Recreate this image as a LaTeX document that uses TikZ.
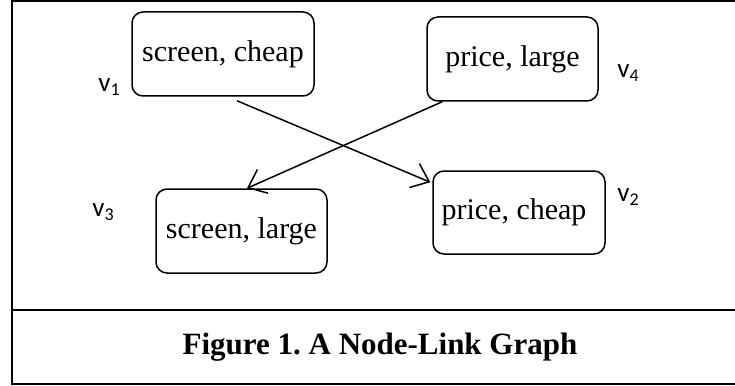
\documentclass[tikz,border=0pt]{standalone}
\usepackage{fontspec}
\setmainfont{Liberation Serif}
\newfontfamily\labfont{Carlito}
\usetikzlibrary{arrows.meta,calc}
\tikzset{
  vbox/.style={draw, line width=1.5pt, rounded corners=11pt, inner sep=0pt,
    font=\fontsize{30}{32}\selectfont},
  vlab/.style={inner sep=0pt, font=\labfont\fontsize{27}{28}\selectfont},
  frameline/.style={line width=2.2pt},
  arr/.style={line width=1.5pt, -{Straight Barb[length=16pt,width=26pt,line width=1.5pt]}}
}
\newcommand{\vsub}[1]{v\raisebox{-4pt}{\fontsize{18}{18}\selectfont #1}}
\frenchspacing
\begin{document}
\begin{tikzpicture}[x=1pt,y=-1pt]
\useasboundingbox (0,0) rectangle (735,385);
% frame
\draw[frameline] (735,1) -- (12,1) -- (12,384) -- (735,384);
\draw[frameline] (12,310) -- (735,310);
% nodes
\node[vbox, minimum width=182pt, minimum height=84pt] (sc) at (223,54) {screen, cheap};
\node[vbox, minimum width=171pt, minimum height=84pt] (pl) at (512.5,59) {\raisebox{-3pt}{price, large}};
\node[vbox, minimum width=171pt, minimum height=84pt] (sl) at (241.5,231) {screen, large};
\node[vbox, minimum width=172pt, minimum height=83pt] (pc) at (519,212.5) {\hspace*{-10pt}\raisebox{-3pt}{price, cheap}};
% labels
\node[vlab] (l1) at (109,87) {\vsub{1}};
\node[vlab] (l4) at (628,73) {\vsub{4}};
\node[vlab] (l3) at (103,212) {\vsub{3}};
\node[vlab] (l2) at (628,197) {\vsub{2}};
% edges
\draw[arr] ([xshift=14pt,yshift=-4pt]sc.south) -- ([xshift=-2pt,yshift=-12pt]pc.north west);
\draw[arr] ([xshift=16pt]pl.south west) -- ([xshift=5.5pt]sl.north);
% caption
\node[font=\bfseries\fontsize{31}{34}\selectfont, inner sep=0pt] (cap) at (380,347) {Figure 1. A Node-Link Graph};
\end{tikzpicture}
\end{document}
